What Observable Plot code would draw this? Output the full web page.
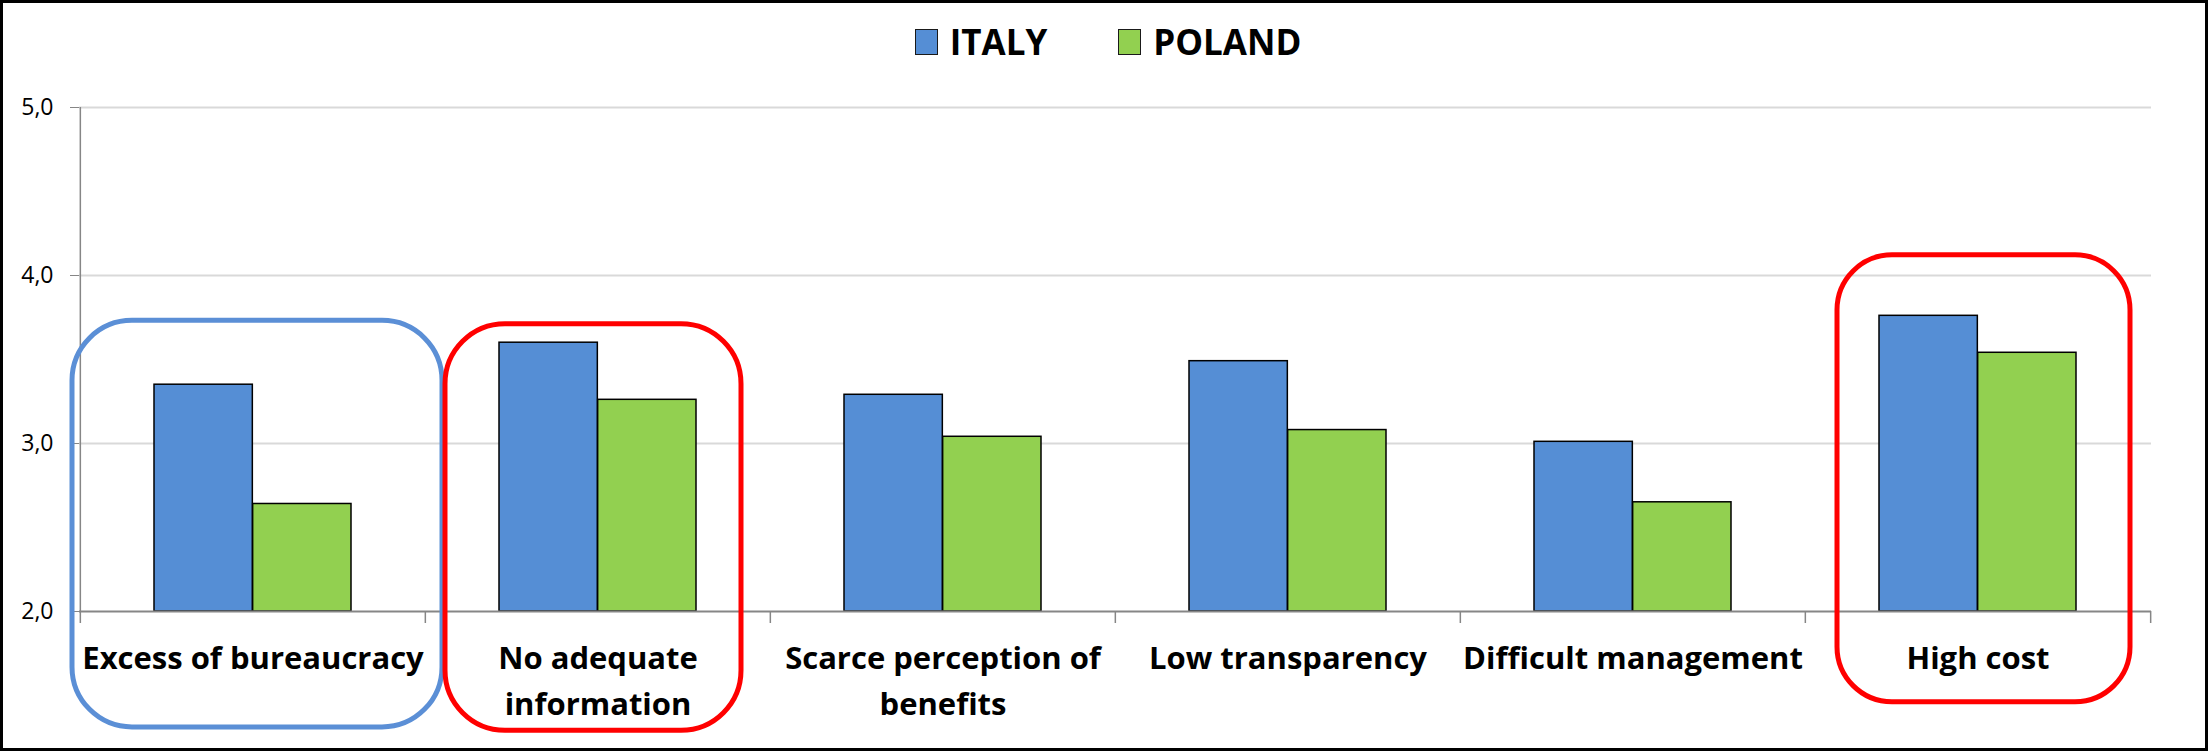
<!DOCTYPE html>
<html>
<head>
<meta charset="utf-8">
<script src="https://cdn.jsdelivr.net/npm/d3@7"></script>
<script src="https://cdn.jsdelivr.net/npm/@observablehq/plot@0.6"></script>
<style>
html, body { margin: 0; padding: 0; background: #fff; }
#frame { position: relative; width: 2208px; height: 751px; box-sizing: border-box; border: 3px solid #000; background: #fff; overflow: hidden; }
#legend { height: 67px; box-sizing: border-box; padding-top: 10px; padding-left: 8px; display: flex; justify-content: center; align-items: center; font-family: "Open Sans", sans-serif; font-weight: 700; font-size: 35px; color: #000; }
.item { display: flex; align-items: center; }
.item + .item { margin-left: 71px; }
.sw { width: 21px; height: 24px; border: 1.5px solid #1a1a1a; margin-right: 12px; }
#chart svg { display: block; }
</style>
</head>
<body>
<div id="frame">
  <div id="legend"></div>
  <div id="chart"></div>
</div>
<script>
// ---- data ----
const categories = ["Excess of bureaucracy", "No adequate information", "Scarce perception of benefits", "Low transparency", "Difficult management", "High cost"];
const tickLabels = ["Excess of bureaucracy", "No adequate\ninformation", "Scarce perception of\nbenefits", "Low transparency", "Difficult management", "High cost"];
const seriesNames = ["ITALY", "POLAND"];
const italy = [3.35, 3.60, 3.29, 3.49, 3.01, 3.76];
const poland = [2.64, 3.26, 3.04, 3.08, 2.65, 3.54];
const yTicks = [2, 3, 4, 5];
const highlightCats = ["Excess of bureaucracy", "No adequate information", "High cost"];
const highlightTop = [3.73, 3.71, 4.12];
const highlightBottom = [1.31, 1.29, 1.46];

// ---- styles ----
const colors = ["#558ED5", "#92D050"];
const highlightColors = ["#5B8FD6", "#FF0000", "#FF0000"];

// legend
const legend = document.getElementById("legend");
seriesNames.forEach((s, i) => {
  const it = document.createElement("div");
  it.className = "item";
  const sw = document.createElement("div");
  sw.className = "sw";
  sw.style.background = colors[i];
  const t = document.createElement("span");
  t.textContent = s;
  it.appendChild(sw); it.appendChild(t);
  legend.appendChild(it);
});

const rows = categories.map((c, i) => ({category: c, italy: italy[i], poland: poland[i]}));
const hl = highlightCats.map((c, i) => ({category: c, top: highlightTop[i], bottom: highlightBottom[i]}));

const W = 2202, H = 678, ml = 76, mr = 54, mt = 37, mb = 137;
const bw = (W - ml - mr) / categories.length;
const gap = bw * 0.75 / 3.5, barW = bw / 3.5;
const axisColor = "#868686";

const insetsHL = [[-8, -17], [20, 29], [32, 20]];
const radiusHL = [60, 60, 55];

const chart = Plot.plot({
  width: W, height: H,
  marginLeft: ml, marginRight: mr, marginTop: mt, marginBottom: mb,
  style: {background: "transparent", overflow: "visible", fontFamily: "Open Sans"},
  x: {domain: categories, padding: 0, label: null},
  y: {domain: [2, 5], label: null},
  marks: [
    Plot.gridY(yTicks.slice(1), {stroke: "#d9d9d9", strokeOpacity: 1, strokeWidth: 2}),
    Plot.barY(rows, {x: "category", y1: 2, y2: "italy", fill: colors[0], stroke: "#000", strokeWidth: 1.5, insetLeft: gap, insetRight: bw - gap - barW}),
    Plot.barY(rows, {x: "category", y1: 2, y2: "poland", fill: colors[1], stroke: "#000", strokeWidth: 1.5, insetLeft: gap + barW, insetRight: gap}),
    Plot.ruleY([2], {stroke: axisColor, strokeWidth: 2}),
    Plot.ruleX([categories[0]], {x: d => d, dx: -bw / 2, y1: 2, y2: 5, stroke: axisColor, strokeWidth: 1.5}),
    Plot.axisX({tickSize: 12, dx: -bw / 2, fill: "none", stroke: axisColor, strokeWidth: 1.5, label: null}),
    Plot.axisX([categories[categories.length - 1]], {tickSize: 12, dx: bw / 2, fill: "none", stroke: axisColor, strokeWidth: 1.5, label: null}),
    Plot.axisX({tickSize: 0, tickPadding: 25, tickFormat: d => tickLabels[categories.indexOf(d)], fontSize: 31, fontWeight: 700, fontFamily: "Open Sans", lineHeight: 1.48, fill: "#000", label: null}),
    Plot.axisY({ticks: yTicks, tickSize: 9, tickPadding: 17, tickFormat: d => d.toFixed(1).replace(".", ","), fontSize: 23, fontFamily: "Open Sans", stroke: axisColor, fill: "#000", label: null}),
    ...hl.map((h, i) => Plot.barY([h], {x: "category", y1: "bottom", y2: "top", fill: "none", stroke: highlightColors[i], strokeWidth: 5, rx: radiusHL[i], ry: radiusHL[i], insetLeft: insetsHL[i][0], insetRight: insetsHL[i][1]}))
  ]
});
document.getElementById("chart").appendChild(chart);
</script>
</body>
</html>
